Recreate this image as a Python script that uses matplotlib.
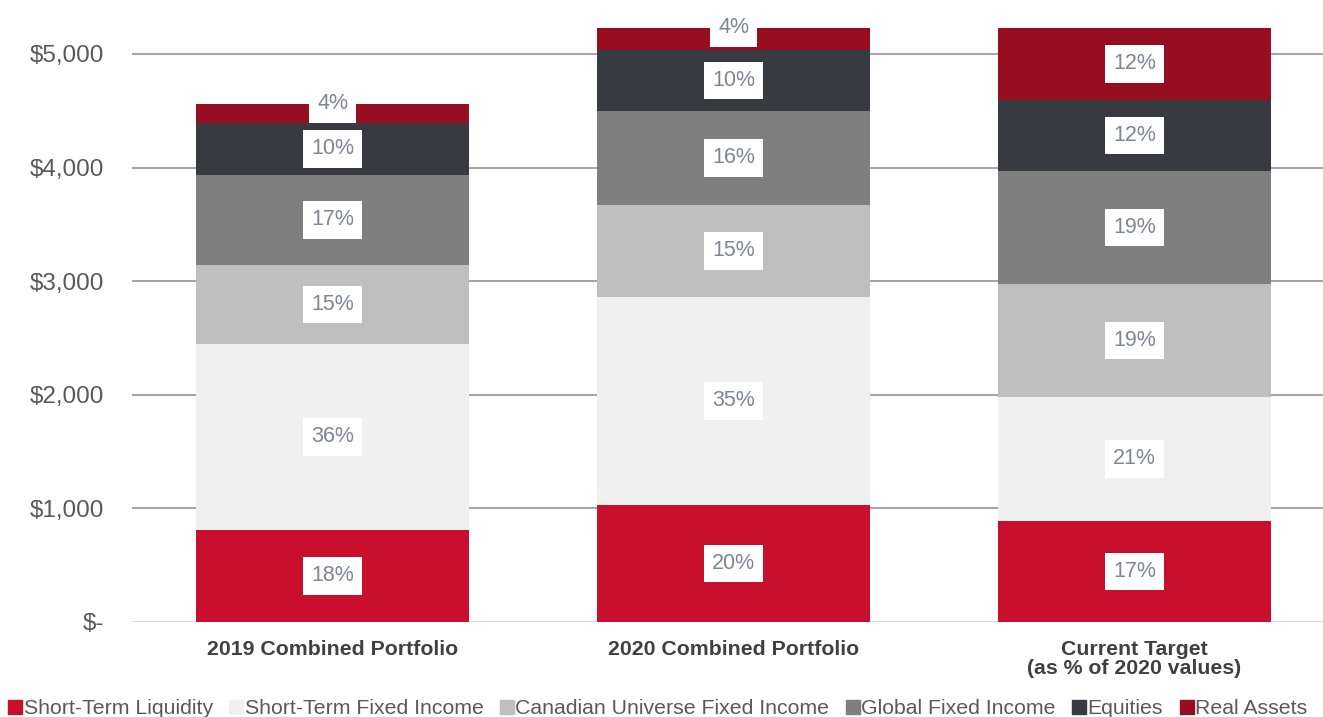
import numpy as np
import matplotlib
matplotlib.use("Agg")
import matplotlib.pyplot as plt
from matplotlib.lines import Line2D

plt.rcParams['font.family'] = ['Liberation Sans', 'DejaVu Sans']

# Portfolio values ($ millions)
categories = ["2019 Combined Portfolio", "2020 Combined Portfolio", "Current Target\n(as % of 2020 values)"]
series = ["Short-Term Liquidity", "Short-Term Fixed Income", "Canadian Universe Fixed Income",
          "Global Fixed Income", "Equities", "Real Assets"]
short_term_liquidity = [810, 1030, 889]
short_term_fixed = [1637, 1831, 1092]
canadian_universe = [696, 810, 994]
global_fixed = [792, 827, 995]
equities = [458, 537, 625]
real_assets = [167, 194, 634]
yticks = [0, 1000, 2000, 3000, 4000, 5000]
ytick_labels = ["$-", "$1,000", "$2,000", "$3,000", "$4,000", "$5,000"]

colors = ["#C8102E", "#F0F0F0", "#BFBFBF", "#7F7F7F", "#373A3F", "#970D22"]
data = np.array([short_term_liquidity, short_term_fixed, canadian_universe,
                 global_fixed, equities, real_assets], dtype=float)
totals = data.sum(axis=0)

fig = plt.figure(figsize=(13.23, 7.17), dpi=100)
ax = fig.add_axes([132 / 1323, 1 - 622 / 717, (1323 - 132) / 1323, 612 / 717])

x = np.arange(len(categories))
width = 0.68
bottom = np.zeros(len(categories))
for i, name in enumerate(series):
    ax.bar(x, data[i], width, bottom=bottom, color=colors[i], label=name, zorder=2)
    for j in range(len(categories)):
        pct = round(data[i, j] / totals[j] * 100)
        yc = bottom[j] + data[i, j] / 2
        if data[i, j] < 300:
            yc = bottom[j] + data[i, j]  # small slices: label sits on the top edge
        ax.text(x[j], yc, f"{pct}%", ha="center", va="center", fontsize=15.5, color="#7F8690",
                bbox=dict(boxstyle="square,pad=0.38", fc="white", ec="none"), zorder=3)
    bottom += data[i]

ax.set_xlim(-0.5, 2.47)
ax.set_ylim(0, 5387)
ax.set_yticks(yticks)
ax.set_yticklabels(ytick_labels, fontsize=17.5, color="#595959")
ax.set_xticks(x)
ax.set_xticklabels(categories, fontsize=15.3, fontweight="bold", color="#404040", linespacing=1.0)
ax.tick_params(length=0)
ax.tick_params(axis="x", pad=13)
ax.tick_params(axis="y", pad=20)
ax.grid(axis="y", color="#A6A6A6", linewidth=1.5, zorder=0)
ax.yaxis.get_gridlines()[0].set_color("#D9D9D9")
for s in ax.spines.values():
    s.set_visible(False)

handles = [Line2D([], [], marker="s", linestyle="none", markersize=10, color=c) for c in colors]
fig.legend(handles, series, loc="lower center", bbox_to_anchor=(0.497, -0.028), ncol=6,
           frameon=False, fontsize=15.3, labelcolor="#595959", handletextpad=0.05,
           columnspacing=0.75, handlelength=0.7)

fig.savefig("out.png", dpi=100)
